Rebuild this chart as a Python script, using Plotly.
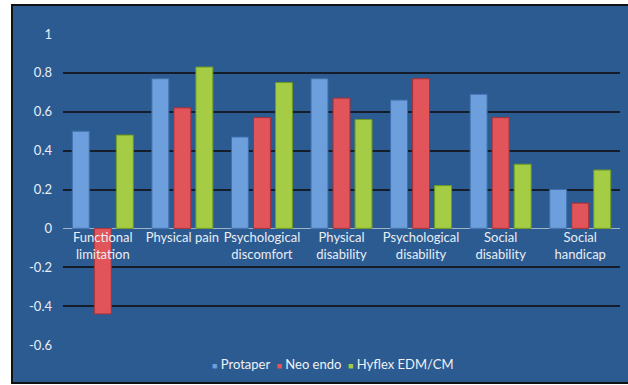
import plotly.graph_objects as go

categories = ["Functional<br>limitation", "Physical pain", "Psychological<br>discomfort",
              "Physical<br>disability", "Psychological<br>disability", "Social<br>disability",
              "Social<br>handicap"]
protaper = [0.50, 0.77, 0.47, 0.77, 0.66, 0.69, 0.20]
neo_endo = [-0.44, 0.62, 0.57, 0.67, 0.77, 0.57, 0.13]
hyflex = [0.48, 0.83, 0.75, 0.56, 0.22, 0.33, 0.30]
series_names = ["Protaper", "Neo endo", "Hyflex EDM/CM"]
y_ticks = [1, 0.8, 0.6, 0.4, 0.2, 0, -0.2, -0.4, -0.6]
y_tick_text = ["1", "0.8", "0.6", "0.4", "0.2", "0", "-0.2", "-0.4", "-0.6"]

W, H = 628, 385
L, R, T, B = 63, 8, 34, 40
pw, ph = W - L - R, H - T - B

def px_x(x):
    return (x - L) / pw

def px_y(y):
    return (H - B - y) / ph

colors = ["#6c9fdb", "#e0545a", "#a4cc44"]
lines = ["#3f6fae", "#a83036", "#6f9a22"]
fig = go.Figure()
for name, vals, c, lc in zip(series_names, [protaper, neo_endo, hyflex], colors, lines):
    fig.add_trace(go.Bar(x=categories, y=vals, name=name, showlegend=False,
                         marker=dict(color=c, line=dict(color=lc, width=1))))

legend_text = "&nbsp;&nbsp;".join(
    f"<span style='color:{c};font-size:9px'>■</span> {n}" for n, c in zip(series_names, colors))

fig.update_layout(
    width=W, height=H,
    margin=dict(l=L, r=R, t=T, b=B),
    paper_bgcolor="white",
    plot_bgcolor="rgba(0,0,0,0)",
    barmode="group", bargap=0.17, bargroupgap=0.23,
    font=dict(family="Lato, Open Sans, sans-serif", color="#e8eef5", size=13),
    annotations=[dict(text=legend_text, xref="paper", yref="paper", x=px_x(333), y=px_y(364),
                      xanchor="center", yanchor="middle", showarrow=False,
                      font=dict(size=13, color="#eef2f7"))],
    shapes=[dict(type="rect", xref="paper", yref="paper", layer="below",
                 x0=px_x(12), x1=px_x(640), y0=px_y(383), y1=px_y(5),
                 fillcolor="#2c5b91", line=dict(color="#111111", width=2))],
)
fig.update_yaxes(range=[-0.6, 1.0], tickvals=y_ticks, ticktext=y_tick_text,
                 showgrid=True, gridcolor="#151d2b", gridwidth=1.5,
                 zeroline=True, zerolinecolor="#9fb3c8", zerolinewidth=1,
                 ticks="", ticklabelstandoff=10, showline=False,
                 tickfont=dict(size=13, color="#e8eef5"))
fig.update_xaxes(anchor="free", position=0.6 / 1.6, showline=False, ticks="",
                 showgrid=False, tickfont=dict(size=13, color="#e8eef5"), tickangle=0)

fig.write_html("out.html")
